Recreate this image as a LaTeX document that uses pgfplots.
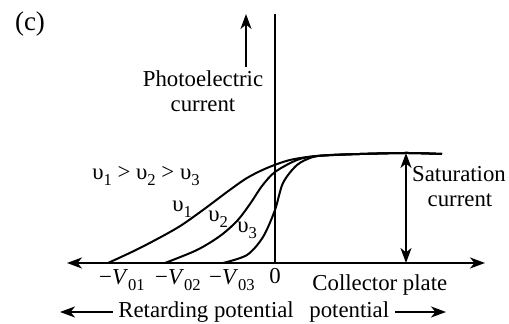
\documentclass[border=0pt]{standalone}
\usepackage{pgfplots}
\pgfplotsset{compat=1.18}
\usepackage{fontspec}
\setmainfont{Liberation Serif}
\usetikzlibrary{arrows.meta}
\newcommand\sub[1]{\raisebox{-0.55ex}{\fontsize{8.3pt}{9pt}\selectfont #1}}
\begin{document}
\begin{tikzpicture}[>={Stealth[length=7.5pt,width=5.5pt,inset=2.2pt]},
  every node/.style={font=\fontsize{11.4pt}{13pt}\selectfont, inner sep=0pt}]
\begin{axis}[x=0.5pt, y=0.5pt,
  xmin=-208, xmax=210, ymin=0, ymax=249,
  axis lines=middle, xtick=\empty, ytick=\empty, clip=false,
  axis line style={line width=1pt},
  x axis line style={<->},
  y axis line style={-}]
% curves
\addplot[smooth, line width=1pt] coordinates {
(-167,0) (-135,15) (-98,35) (-72,53) (-48,71) (-28,85) (-8,95) (15,103) (42,107) (85,109) (132,110) (167,109)};
\addplot[smooth, line width=1pt] coordinates {
(-110,0) (-78,13) (-55,27) (-38,42) (-25,59) (-13,77) (0,91) (22,103) (42,107) (85,109) (132,110) (167,109)};
\addplot[smooth, line width=1pt] coordinates {
(-52,0) (-28,8) (-12,26) (0,53) (8,80) (22,98) (38,106) (55,108) (85,109) (132,110) (167,109)};
% annotation arrows
\draw[->, line width=0.9pt] (axis cs:-29,196) -- (axis cs:-29,249);
\draw[<->, line width=0.9pt] (axis cs:131,110) -- (axis cs:131,0);
\draw[->, line width=0.9pt] (axis cs:-162,-49) -- (axis cs:-215,-49);
\draw[->, line width=0.9pt] (axis cs:120,-49) -- (axis cs:171,-49);
% texts
\node[anchor=base, font=\fontsize{13.5pt}{15pt}\selectfont] at (axis cs:-245,232) {(c)};
\node[anchor=base] at (axis cs:-72,176) {Photoelectric};
\node[anchor=base] at (axis cs:-72,151) {current};
\node[anchor=base] at (axis cs:184,81) {Saturation};
\node[anchor=base] at (axis cs:185,56) {current};
\node[anchor=base] at (axis cs:-129,83) {υ\sub{1} > υ\sub{2} > υ\sub{3}};
\node[anchor=base west] at (axis cs:-103,51) {υ\sub{1}};
\node[anchor=base west] at (axis cs:-67,41) {υ\sub{2}};
\node[anchor=base west] at (axis cs:-38,30) {υ\sub{3}};
\node[anchor=base] at (axis cs:-153,-22) {−\textit{V}\sub{01}};
\node[anchor=base] at (axis cs:-97,-22) {−\textit{V}\sub{02}};
\node[anchor=base] at (axis cs:-43,-22) {−\textit{V}\sub{03}};
\node[anchor=base] at (axis cs:0,-21) {0};
\node[anchor=base west] at (axis cs:37,-28) {Collector plate};
\node[anchor=base west] at (axis cs:34,-55) {potential};
\node[anchor=base west] at (axis cs:-157,-55) {Retarding potential};
\coordinate (BL) at (axis cs:-275,-61);
\coordinate (TR) at (axis cs:234,263);
\end{axis}
\pgfresetboundingbox
\path[use as bounding box] (BL) rectangle (TR);
\end{tikzpicture}
\end{document}
